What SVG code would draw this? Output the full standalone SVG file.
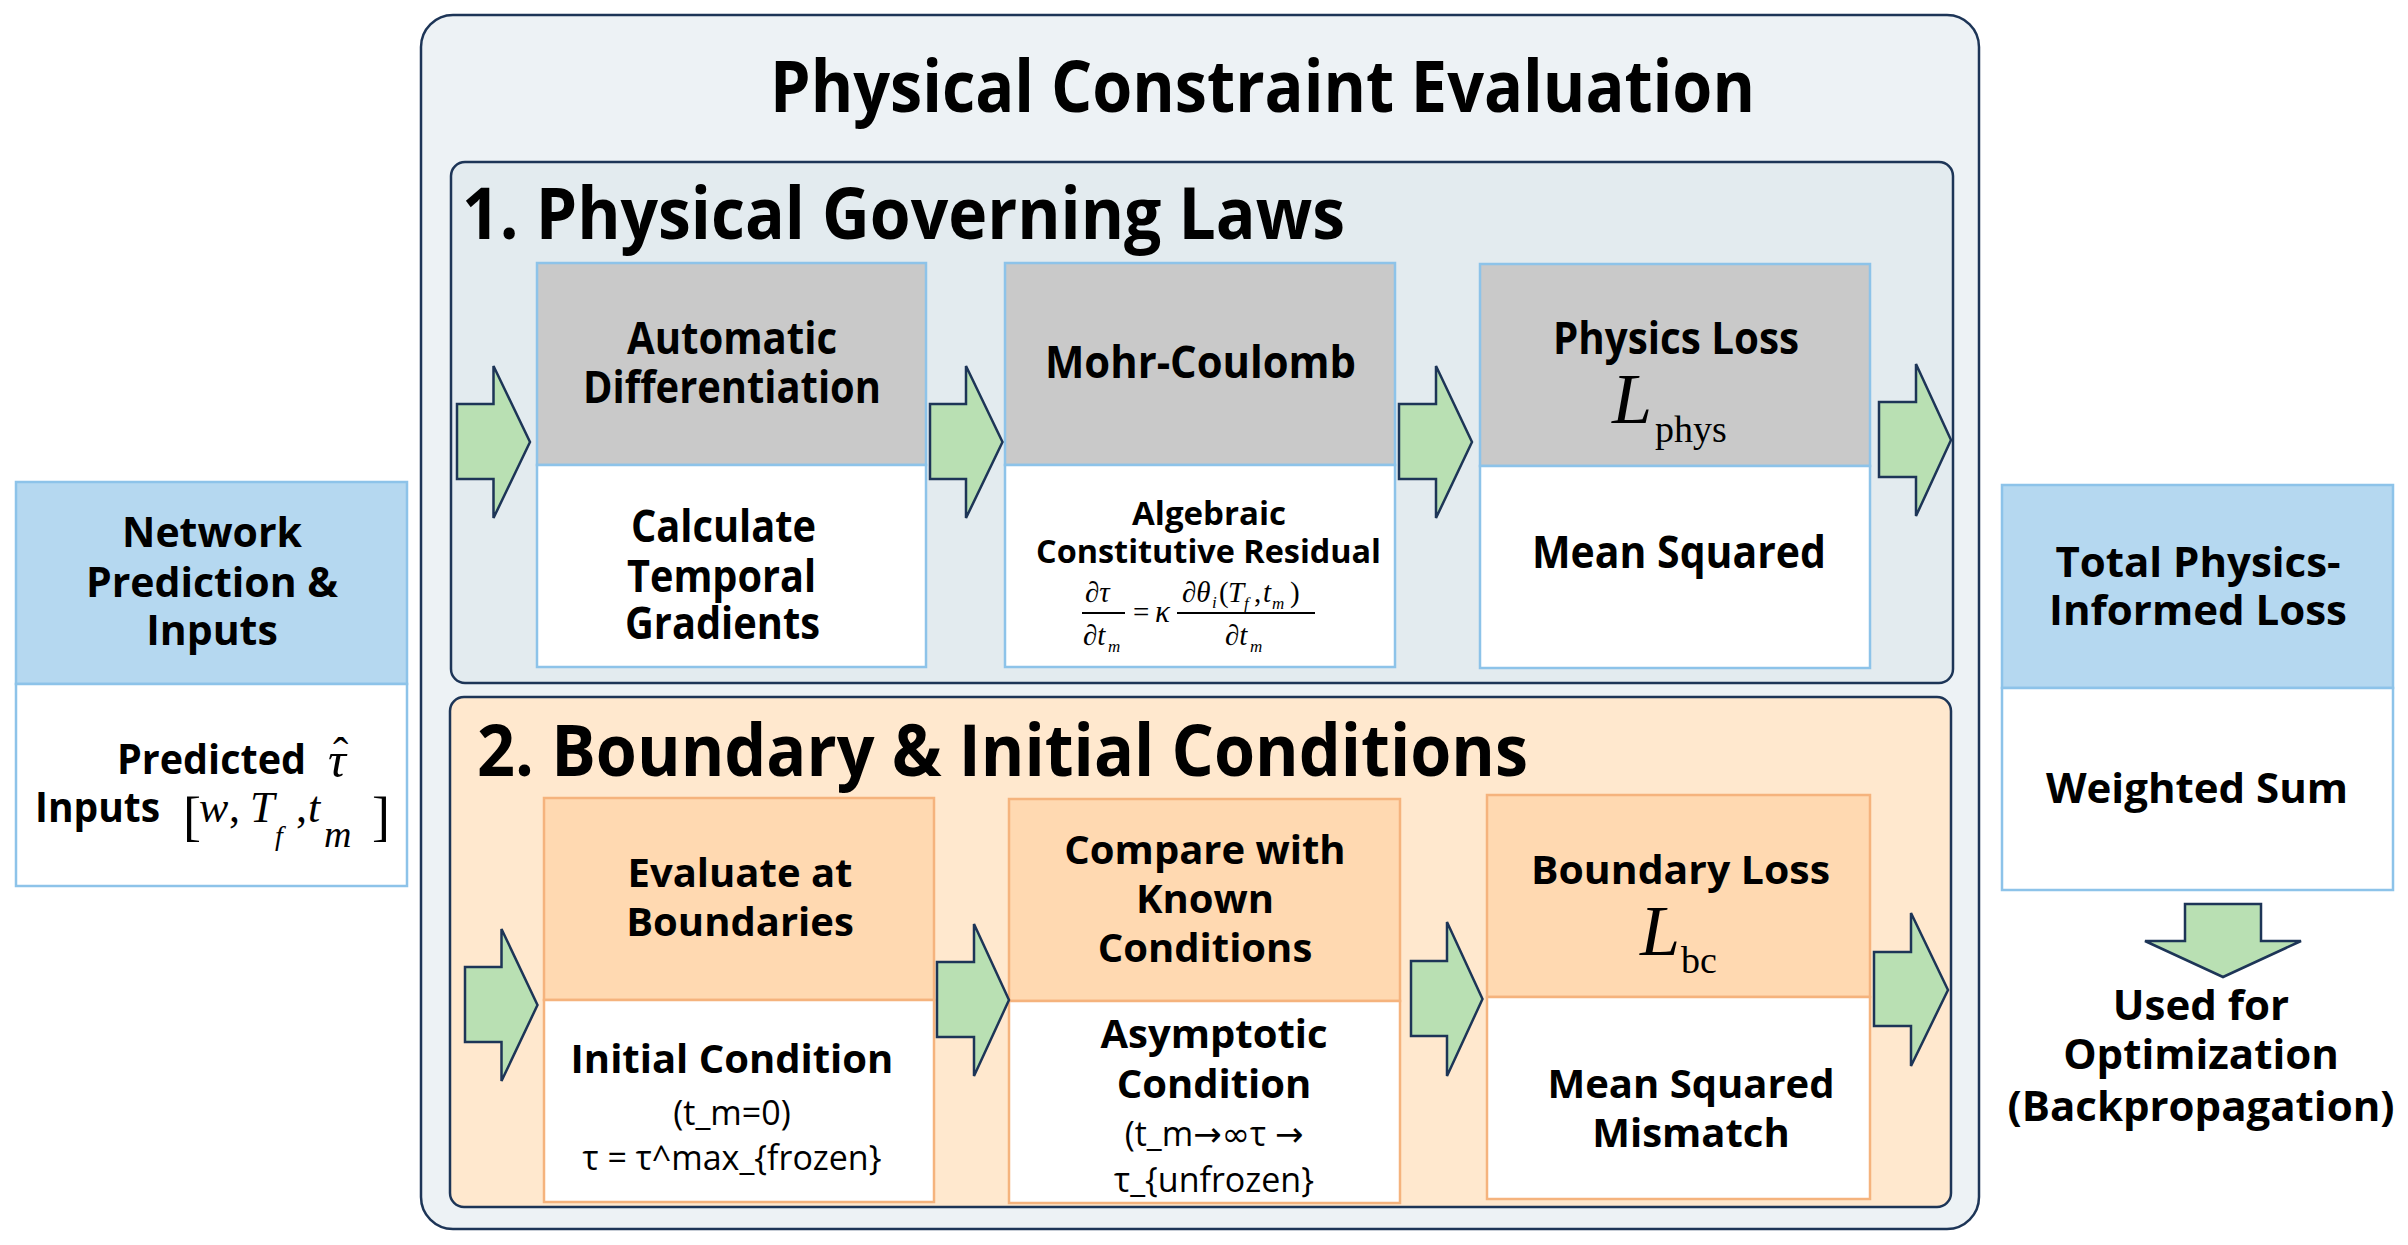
<svg xmlns="http://www.w3.org/2000/svg" width="2408" height="1245" viewBox="0 0 2408 1245">
<style>
.b{font-family:"Open Sans","Noto Sans",sans-serif;font-weight:700;fill:#000;text-anchor:middle}
.s{font-family:"Open Sans","Noto Sans",sans-serif;font-weight:700;fill:#000;text-anchor:start}
.r{font-family:"Open Sans","Noto Sans",sans-serif;font-weight:400;fill:#000;text-anchor:middle}
.sym{font-family:"DejaVu Sans",sans-serif}
.m{font-family:"Liberation Serif","Times New Roman",serif;font-style:italic;fill:#000}
.mu{font-family:"Liberation Serif","Times New Roman",serif;fill:#000}
.hdb{fill:#B5D8F0;stroke:#8DC3E9;stroke-width:2.5}
.hdg{fill:#C9C9C9;stroke:#8DC3E9;stroke-width:2.5}
.bdb{fill:#FFFFFF;stroke:#8DC3E9;stroke-width:2.5}
.hdo{fill:#FFD9B1;stroke:#F5B37D;stroke-width:2.5}
.bdo{fill:#FFFFFF;stroke:#F5B37D;stroke-width:2.5}
.arr{fill:#B9E0B3;stroke:#1D3557;stroke-width:2.5;stroke-linejoin:miter}
</style>

<g id="outer">
<rect x="421" y="15" width="1558" height="1214" rx="32" fill="#EDF2F5" stroke="#1D3557" stroke-width="2.5"/>
<text class="s" x="770" y="112" font-size="72" textLength="985" lengthAdjust="spacingAndGlyphs">Physical Constraint Evaluation</text>
</g>

<g id="section1">
<rect x="451" y="162" width="1502" height="521" rx="14" fill="#E3EBEF" stroke="#1D3557" stroke-width="2.5"/>
<text class="s" x="462" y="239" font-size="72" textLength="883" lengthAdjust="spacingAndGlyphs">1. Physical Governing Laws</text>
</g>

<g id="section2">
<rect x="450" y="697" width="1501" height="510" rx="14" fill="#FFE8CE" stroke="#1D3557" stroke-width="2.5"/>
<text class="s" x="477" y="776" font-size="72" textLength="1051" lengthAdjust="spacingAndGlyphs">2. Boundary &amp; Initial Conditions</text>
</g>

<g id="node-input">
<rect class="hdb" x="16" y="482" width="391" height="202"/>
<rect class="bdb" x="16" y="684" width="391" height="202"/>
<text class="b" font-size="41"><tspan x="212" y="547">Network</tspan><tspan x="212" y="597">Prediction &amp;</tspan><tspan x="212" y="645">Inputs</tspan></text>
<text class="s" x="117" y="774" font-size="41" textLength="189" lengthAdjust="spacingAndGlyphs">Predicted</text>
<text class="m" x="328" y="777" font-size="50">τ</text>
<text class="mu" x="333" y="770" font-size="46">ˆ</text>
<text class="s" x="35" y="822" font-size="41" textLength="125" lengthAdjust="spacingAndGlyphs">Inputs</text>
<text class="mu" x="183" y="835" font-size="54">[</text>
<text class="m" x="199" y="822" font-size="44">w</text>
<text class="mu" x="229" y="822" font-size="44">,</text>
<text class="m" x="250" y="822" font-size="44">T</text>
<text class="m" x="275" y="845" font-size="28">f</text>
<text class="mu" x="296" y="822" font-size="44">,</text>
<text class="m" x="308" y="822" font-size="44">t</text>
<text class="m" x="324" y="847" font-size="38">m</text>
<text class="mu" x="372" y="835" font-size="54">]</text>
</g>

<g id="node-autodiff">
<rect class="hdg" x="537" y="263" width="389" height="202"/>
<rect class="bdb" x="537" y="465" width="389" height="202"/>
<text class="s" x="627" y="354" font-size="44" textLength="210" lengthAdjust="spacingAndGlyphs">Automatic</text>
<text class="s" x="583" y="403" font-size="44" textLength="298" lengthAdjust="spacingAndGlyphs">Differentiation</text>
<text class="s" x="631" y="542" font-size="44" textLength="185" lengthAdjust="spacingAndGlyphs">Calculate</text>
<text class="s" x="627" y="592" font-size="44" textLength="189" lengthAdjust="spacingAndGlyphs">Temporal</text>
<text class="s" x="625" y="639" font-size="44" textLength="195" lengthAdjust="spacingAndGlyphs">Gradients</text>
</g>

<g id="node-mohr">
<rect class="hdg" x="1005" y="263" width="390" height="202"/>
<rect class="bdb" x="1005" y="465" width="390" height="202"/>
<text class="s" x="1045" y="378" font-size="44" textLength="311" lengthAdjust="spacingAndGlyphs">Mohr-Coulomb</text>
<text class="s" x="1132" y="525" font-size="33" textLength="154" lengthAdjust="spacingAndGlyphs">Algebraic</text>
<text class="s" x="1036" y="563" font-size="33" textLength="345" lengthAdjust="spacingAndGlyphs">Constitutive Residual</text>
<text class="m" x="1085" y="602" font-size="29">∂τ</text>
<line x1="1082" y1="613" x2="1125" y2="613" stroke="#000" stroke-width="1.8"/>
<text class="m" x="1083" y="645" font-size="29">∂t</text>
<text class="m" x="1108" y="652" font-size="17">m</text>
<text class="mu" x="1133" y="622" font-size="29">=</text>
<text class="m" x="1155" y="622" font-size="31">κ</text>
<text class="m" x="1182" y="602" font-size="29">∂θ</text>
<text class="m" x="1212" y="608" font-size="17">i</text>
<text class="mu" x="1219" y="602" font-size="29">(</text>
<text class="m" x="1228" y="602" font-size="29">T</text>
<text class="m" x="1244" y="609" font-size="17">f</text>
<text class="mu" x="1254" y="602" font-size="29">,</text>
<text class="m" x="1263" y="602" font-size="29">t</text>
<text class="m" x="1272" y="609" font-size="17">m</text>
<text class="mu" x="1290" y="602" font-size="29">)</text>
<line x1="1177" y1="613" x2="1315" y2="613" stroke="#000" stroke-width="1.8"/>
<text class="m" x="1225" y="645" font-size="29">∂t</text>
<text class="m" x="1250" y="652" font-size="17">m</text>
</g>

<g id="node-physloss">
<rect class="hdg" x="1480" y="264" width="390" height="202"/>
<rect class="bdb" x="1480" y="466" width="390" height="202"/>
<text class="s" x="1553" y="354" font-size="44" textLength="246" lengthAdjust="spacingAndGlyphs">Physics Loss</text>
<text class="m" x="1612" y="423" font-size="72">L</text>
<text class="mu" x="1655" y="442" font-size="38">phys</text>
<text class="s" x="1532" y="568" font-size="44" textLength="294" lengthAdjust="spacingAndGlyphs">Mean Squared</text>
</g>

<g id="node-evalbound">
<rect class="hdo" x="544" y="798" width="390" height="202"/>
<rect class="bdo" x="544" y="1000" width="390" height="202"/>
<text class="b" font-size="40"><tspan x="740" y="887">Evaluate at</tspan><tspan x="740" y="936">Boundaries</tspan></text>
<text class="b" x="732" y="1073" font-size="40">Initial Condition</text>
<text class="r" font-size="34"><tspan x="732" y="1125">(t_m=0)</tspan><tspan x="732" y="1170">τ = τ^max_{frozen}</tspan></text>
</g>

<g id="node-compare">
<rect class="hdo" x="1009" y="799" width="391" height="202"/>
<rect class="bdo" x="1009" y="1001" width="391" height="202"/>
<text class="b" font-size="40"><tspan x="1205" y="864">Compare with</tspan><tspan x="1205" y="913">Known</tspan><tspan x="1205" y="962">Conditions</tspan></text>
<text class="b" font-size="40"><tspan x="1214" y="1048">Asymptotic</tspan><tspan x="1214" y="1098">Condition</tspan></text>
<text class="r" font-size="34"><tspan x="1214" y="1146">(t_m<tspan class="sym">→∞</tspan>τ <tspan class="sym">→</tspan></tspan><tspan x="1214" y="1192">τ_{unfrozen}</tspan></text>
</g>

<g id="node-bcloss">
<rect class="hdo" x="1487" y="795" width="383" height="202"/>
<rect class="bdo" x="1487" y="997" width="383" height="202"/>
<text class="s" x="1531" y="884" font-size="40" textLength="299" lengthAdjust="spacingAndGlyphs">Boundary Loss</text>
<text class="m" x="1640" y="955" font-size="72">L</text>
<text class="mu" x="1681" y="973" font-size="38">bc</text>
<text class="b" font-size="40"><tspan x="1691" y="1098">Mean Squared</tspan><tspan x="1691" y="1147">Mismatch</tspan></text>
</g>

<g id="node-total">
<rect class="hdb" x="2002" y="485" width="391" height="203"/>
<rect class="bdb" x="2002" y="688" width="391" height="202"/>
<text class="b" font-size="42"><tspan x="2198" y="577">Total Physics-</tspan><tspan x="2198" y="625">Informed Loss</tspan></text>
<text class="b" x="2197" y="803" font-size="42">Weighted Sum</text>
<text class="b" font-size="42"><tspan x="2201" y="1020">Used for</tspan><tspan x="2201" y="1069">Optimization</tspan><tspan x="2201" y="1121">(Backpropagation)</tspan></text>
</g>

<g id="connectors">
<polygon class="arr" points="457,404 493.5,404 493.5,366 530,442 493.5,518 493.5,479 457,479"/>
<polygon class="arr" points="930,404 966,404 966,366 1002.5,442 966,518 966,479 930,479"/>
<polygon class="arr" points="1399,404 1436,404 1436,366 1472,442 1436,518 1436,479 1399,479"/>
<polygon class="arr" points="1879,402 1916,402 1916,364 1951,440 1916,516 1916,477 1879,477"/>
<polygon class="arr" points="465,967 501.5,967 501.5,929 537.5,1005 501.5,1081 501.5,1042 465,1042"/>
<polygon class="arr" points="937,962 974,962 974,924 1009,1000 974,1076 974,1037 937,1037"/>
<polygon class="arr" points="1411,961 1447,961 1447,922 1482.5,999 1447,1076 1447,1036 1411,1036"/>
<polygon class="arr" points="1874,952 1911,952 1911,913 1948,990 1911,1066 1911,1026 1874,1026"/>
<polygon class="arr" points="2185,904 2261,904 2261,941 2301,941 2223,977 2145,941 2185,941"/>
</g>
</svg>
